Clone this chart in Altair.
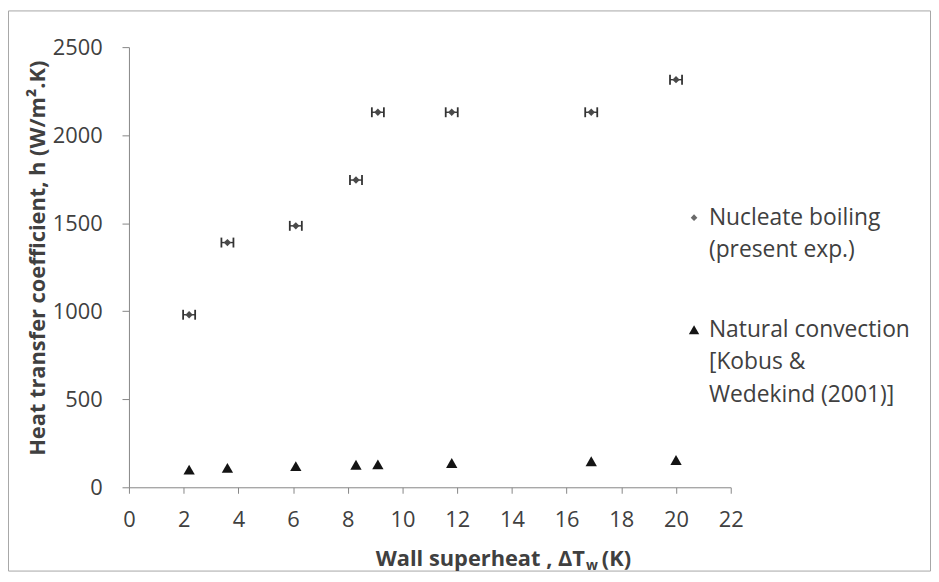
import altair as alt
import pandas as pd

# ---- data ----
wall_superheat = [2.2, 3.6, 6.1, 8.3, 9.1, 11.8, 16.9, 20.0]
h_nucleate = [980, 1390, 1485, 1745, 2130, 2130, 2130, 2315]
h_natural = [100, 110, 120, 128, 130, 138, 148, 155]
superheat_err = [0.22, 0.22, 0.22, 0.22, 0.22, 0.22, 0.22, 0.22]
x_ticks = [0, 2, 4, 6, 8, 10, 12, 14, 16, 18, 20, 22]
y_ticks = [0, 500, 1000, 1500, 2000, 2500]
legend_nucleate = ["Nucleate boiling", "(present exp.)"]
legend_natural = ["Natural convection", "[Kobus &", "Wedekind (2001)]"]
y_title = "Heat transfer coefficient, h (W/m\u00b2.K)"
x_title_main = "Wall superheat , \u0394T"
x_title_sub = "w"
x_title_unit = "(K)"

df = pd.DataFrame({
    "dT": wall_superheat,
    "h_nb": h_nucleate,
    "h_nc": h_natural,
    "err": superheat_err,
})

# ---- layout ----
W, H = 607, 444
PAD = {"left": 122, "top": 37, "right": 202, "bottom": 85}
FONT = "Open Sans"
TXT = "#404040"
AXC = "#868686"

xs = alt.Scale(domain=[0, 22], nice=False, zero=False)
ys = alt.Scale(domain=[0, 2500], nice=False, zero=False)

x_axis = alt.Axis(values=x_ticks, grid=False, title=None, tickSize=6, format="d",
                  labelPadding=17, labelFontSize=22, labelFont=FONT,
                  labelColor=TXT, domainColor=AXC, tickColor=AXC,
                  labelFlush=False, labelOverlap=False)
y_axis = alt.Axis(values=y_ticks, grid=False, title=None, tickSize=7, format="d",
                  labelPadding=20, labelFontSize=22, labelFont=FONT,
                  labelColor=TXT, domainColor=AXC, tickColor=AXC,
                  labelFlush=False, labelOverlap=False)

def X(f):
    return alt.X(f, type="quantitative", scale=xs, axis=x_axis, title=None)

def Y(f):
    return alt.Y(f, type="quantitative", scale=ys, axis=y_axis, title=None)

base = alt.Chart(df).transform_calculate(
    lo="datum.dT - datum.err", hi="datum.dT + datum.err"
)

err_rule = base.mark_rule(color="#333333", strokeWidth=1.4).encode(
    x=X("lo:Q"), x2="hi:Q", y=Y("h_nb:Q")
)
cap_lo = base.mark_tick(orient="vertical", size=10, thickness=1.8,
                        color="#333333", opacity=1).encode(x=X("lo:Q"), y=Y("h_nb:Q"))
cap_hi = base.mark_tick(orient="vertical", size=10, thickness=1.8,
                        color="#333333", opacity=1).encode(x=X("hi:Q"), y=Y("h_nb:Q"))
diamonds = base.mark_point(shape="diamond", filled=True, size=55,
                           color="#4a4a4a", opacity=1).encode(x=X("dT:Q"), y=Y("h_nb:Q"))
triangles = base.mark_point(shape="triangle-up", filled=True, size=130,
                            color="#141414", opacity=1).encode(x=X("dT:Q"), y=Y("h_nc:Q"))

one = alt.Data(values=[{}])

def txt(s, x, y, size=23, weight="normal", align="left", angle=0, baseline="middle"):
    return alt.Chart(one).mark_text(
        text=s, font=FONT, fontSize=size, fontWeight=weight, color=TXT,
        align=align, baseline=baseline, angle=angle
    ).encode(x=alt.value(x), y=alt.value(y))

layers = [err_rule, cap_lo, cap_hi, diamonds, triangles]

# legend
LX_SYM, LX_TXT = 570, 585
LH = 33
y0 = 172
layers.append(alt.Chart(one).mark_point(shape="diamond", filled=True, size=45,
              color="#6a6a6a", opacity=1).encode(x=alt.value(LX_SYM), y=alt.value(y0)))
for i, s in enumerate(legend_nucleate):
    layers.append(txt(s, LX_TXT, y0 + i * LH))
y1 = 285
layers.append(alt.Chart(one).mark_point(shape="triangle-up", filled=True, size=110,
              color="#141414", opacity=1).encode(x=alt.value(LX_SYM), y=alt.value(y1)))
for i, s in enumerate(legend_natural):
    layers.append(txt(s, LX_TXT, y1 + i * LH))

# axis titles
layers.append(txt(y_title, -92, 213, size=22, weight="bold", align="center", angle=270))
XB = 460
layers.append(txt(x_title_main, XB, 523, size=22, weight="bold", align="right", baseline="alphabetic"))
layers.append(txt(x_title_sub, XB + 1, 527, size=14, weight="bold", align="left", baseline="alphabetic"))
layers.append(txt(x_title_unit, XB + 17, 523, size=22, weight="bold", align="left", baseline="alphabetic"))

# outer frame
TW = PAD["left"] + W + PAD["right"]
TH = PAD["top"] + H + PAD["bottom"]
frame = alt.Chart(one).mark_rect(fill=None, stroke="#a6a6a6", strokeWidth=1).encode(
    x=alt.value(-PAD["left"] + 0.5), x2=alt.value(TW - PAD["left"] - 0.5),
    y=alt.value(-PAD["top"] + 0.5), y2=alt.value(TH - PAD["top"] - 0.5)
)
layers.insert(0, frame)

chart = alt.layer(*layers).properties(
    width=W, height=H, padding=PAD,
    autosize=alt.AutoSizeParams(type="none"), background="white"
).configure_view(stroke=None)

chart.save("out.html", embed_options={"renderer": "svg", "actions": False})
